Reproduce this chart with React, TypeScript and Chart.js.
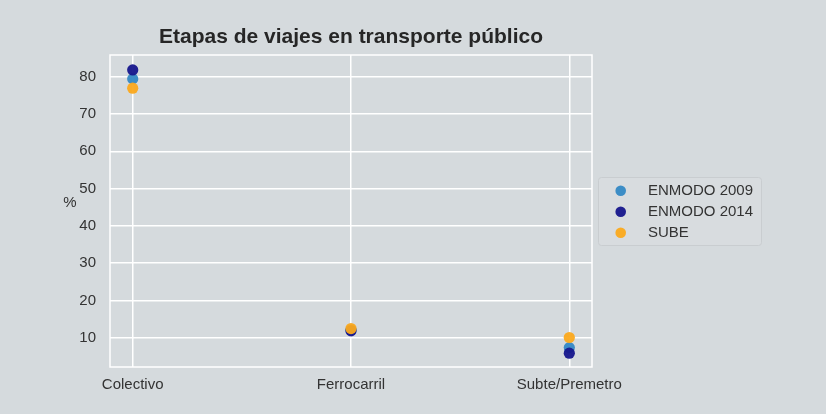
import React, { useEffect, useRef } from "react";
import { Chart, registerables } from "chart.js";

Chart.register(...registerables);

const categories = ["Colectivo", "Ferrocarril", "Subte/Premetro"];
const enmodo2009 = [79.4, 12.1, 7.4];
const enmodo2014 = [81.8, 11.9, 5.9];
const sube = [76.9, 12.5, 10.1];
const yTicks = [10, 20, 30, 40, 50, 60, 70, 80];
const seriesNames = ["ENMODO 2009", "ENMODO 2014", "SUBE"];
const seriesColors = ["rgba(52,136,196,0.95)", "rgba(22,22,140,0.95)", "rgba(251,169,28,0.95)"];

const BG = "#d5dadd";
const FONT = "'Liberation Sans', Arial, sans-serif";

const overlay = {
  id: "overlay",
  beforeDraw(chart: any) {
    const { ctx, width, height } = chart;
    ctx.save();
    ctx.fillStyle = BG;
    ctx.fillRect(0, 0, width, height);
    ctx.restore();
  },
  afterDraw(chart: any) {
    const { ctx, chartArea } = chart;
    const { left, right, top, bottom } = chartArea;
    ctx.save();
    ctx.strokeStyle = "#ffffff";
    ctx.lineWidth = 1.5;
    ctx.strokeRect(left, top, right - left, bottom - top);
    ctx.fillStyle = "#262626";
    ctx.font = `bold 21px ${FONT}`;
    ctx.textAlign = "center";
    ctx.textBaseline = "middle";
    ctx.fillText("Etapas de viajes en transporte público", (left + right) / 2, 37);
    ctx.fillStyle = "#333333";
    ctx.font = `15px ${FONT}`;
    ctx.fillText("%", 70, 203);
    const lx = 598.5, ly = 177.5, lw = 163, lh = 68;
    ctx.beginPath();
    const r = 3;
    ctx.moveTo(lx + r, ly);
    ctx.arcTo(lx + lw, ly, lx + lw, ly + lh, r);
    ctx.arcTo(lx + lw, ly + lh, lx, ly + lh, r);
    ctx.arcTo(lx, ly + lh, lx, ly, r);
    ctx.arcTo(lx, ly, lx + lw, ly, r);
    ctx.closePath();
    ctx.fillStyle = "#d8dcdf";
    ctx.fill();
    ctx.strokeStyle = "#c9cdd0";
    ctx.lineWidth = 1;
    ctx.stroke();
    chart.data.datasets.forEach((ds: any, i: number) => {
      const cy = 190.7 + i * 21;
      ctx.beginPath();
      ctx.arc(620.7, cy, 5.3, 0, Math.PI * 2);
      ctx.fillStyle = ds.backgroundColor;
      ctx.fill();
      ctx.fillStyle = "#333333";
      ctx.font = `15px ${FONT}`;
      ctx.textAlign = "left";
      ctx.textBaseline = "middle";
      ctx.fillText(ds.label, 648, cy);
    });
    ctx.restore();
  },
};

export default function App() {
  const ref = useRef<HTMLCanvasElement>(null);
  useEffect(() => {
    if (!ref.current) return;
    const mk = (vals: number[]) => vals.map((v, i) => ({ x: i, y: v }));
    const seriesData = [enmodo2009, enmodo2014, sube];
    const chart = new Chart(ref.current, {
      type: "scatter",
      data: {
        datasets: seriesNames.map((name, i) => ({
          label: name,
          data: mk(seriesData[i]),
          backgroundColor: seriesColors[i],
          borderColor: seriesColors[i],
          borderWidth: 0,
          pointRadius: 5.6,
          order: seriesNames.length - 1 - i,
        })),
      },
      options: {
        animation: false,
        responsive: false,
        devicePixelRatio: 1,
        layout: { padding: { top: 55, right: 234, left: 0, bottom: 0 } },
        plugins: { legend: { display: false }, title: { display: false }, tooltip: { enabled: false } },
        scales: {
          x: {
            type: "linear",
            min: -0.104,
            max: 2.104,
            afterBuildTicks: (s: any) => { s.ticks = categories.map((_, i) => ({ value: i })); },
            afterFit: (s: any) => { s.height = 47; },
            ticks: {
              callback: (v: any) => categories[Math.round(Number(v))] ?? "",
              color: "#333333",
              font: { family: FONT, size: 15 },
              padding: 9,
              maxRotation: 0,
            },
            grid: { color: "#ffffff", lineWidth: 1.5, drawTicks: false },
            border: { display: false },
          },
          y: {
            type: "linear",
            min: 2.2,
            max: 85.8,
            afterBuildTicks: (s: any) => { s.ticks = yTicks.map((v) => ({ value: v })); },
            afterFit: (s: any) => { s.width = 110; },
            ticks: {
              color: "#333333",
              font: { family: FONT, size: 15 },
              padding: 14,
            },
            grid: { color: "#ffffff", lineWidth: 1.5, drawTicks: false },
            border: { display: false },
          },
        },
      },
      plugins: [overlay],
    });
    return () => chart.destroy();
  }, []);
  return (
    <div style={{ position: "fixed", left: 0, top: 0, width: 826, height: 414, background: BG }}>
      <canvas ref={ref} width={826} height={414} style={{ width: 826, height: 414, display: "block" }} />
    </div>
  );
}
